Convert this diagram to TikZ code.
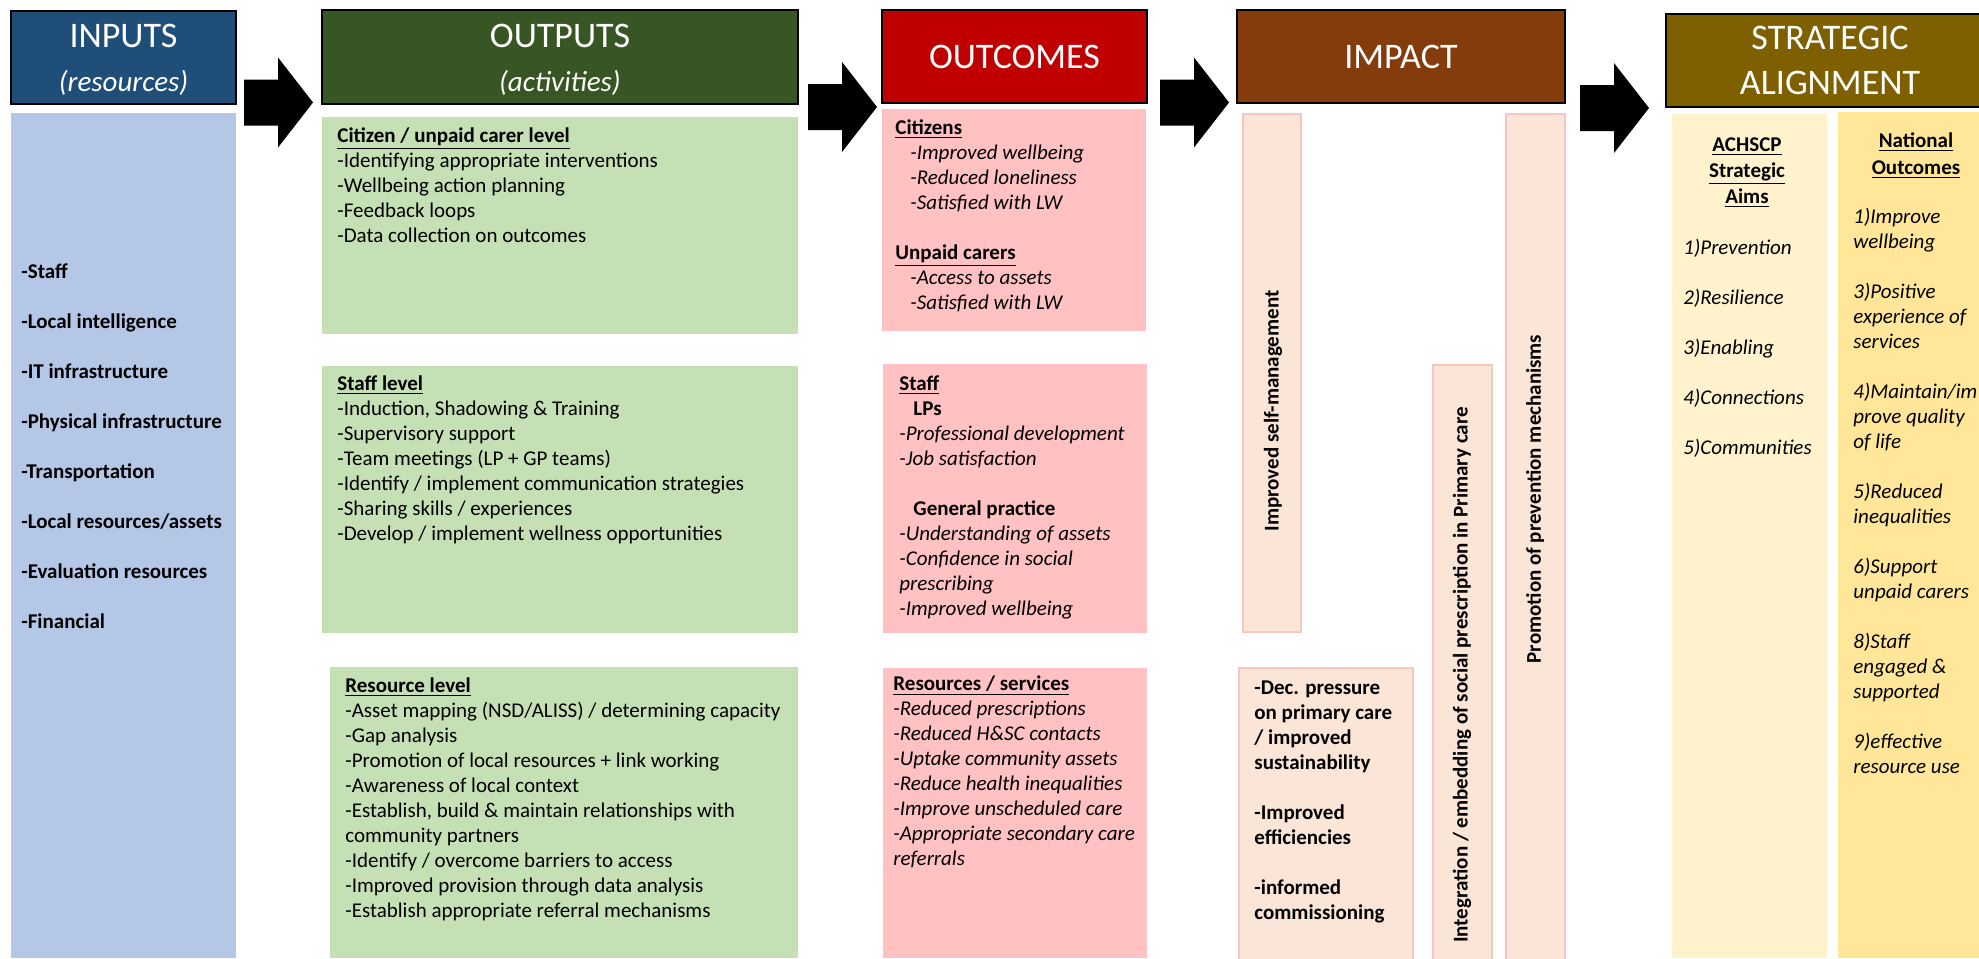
\documentclass[tikz,border=0pt]{standalone}
\usepackage{fontspec}
\setmainfont{Carlito}
\usepackage{xcolor}
\usetikzlibrary{fit,positioning}
\definecolor{inhead}{HTML}{1F4E79}
\definecolor{inbody}{HTML}{B4C7E7}
\definecolor{outhead}{HTML}{375623}
\definecolor{outbody}{HTML}{C5E0B4}
\definecolor{ochead}{HTML}{C00000}
\definecolor{ocbody}{HTML}{FFC1C1}
\definecolor{imhead}{HTML}{843C0C}
\definecolor{imbody}{HTML}{FBE5D6}
\definecolor{imline}{HTML}{F6C6C0}
\definecolor{sahead}{HTML}{7F6000}
\definecolor{saaims}{HTML}{FFF2CC}
\definecolor{sanat}{HTML}{FFE699}

\begin{document}
\begin{tikzpicture}[
  x=0.5pt, y=-0.5pt,
  hdr/.style={draw=black,line width=0.7pt,inner sep=0pt},
  hdrtxt/.style={text=white,align=center,inner sep=0pt,font=\fontsize{18}{20}\selectfont},
  panel/.style={inner sep=0pt,outer sep=0pt},
  impanel/.style={panel,fill=imbody,draw=imline,line width=0.6pt},
  txt/.style={anchor=north west,align=left,inner sep=0pt,font=\fontsize{10.5}{12.5}\selectfont},
  vtxt/.style={rotate=90,inner sep=0pt,font=\bfseries\fontsize{10.5}{12.5}\selectfont},
  blockarrow/.style={fill=black}
]
\useasboundingbox (0,0) rectangle (1979,958);
\clip (0,0) rectangle (1979,958);

% column headers
\node[hdr,fill=inhead,fit={(11,11) (236,104)}] (inhd) {};
\node[hdr,fill=outhead,fit={(322,10) (798,104)}] (outhd) {};
\node[hdr,fill=ochead,fit={(882,10) (1147,103)}] (ochd) {};
\node[hdr,fill=imhead,fit={(1237,10) (1565,103)}] (imhd) {};
\node[hdr,fill=sahead,fit={(1666,14) (1992,107)}] (sahd) {};

\node[hdrtxt] (intitle) at (123.5,60) {INPUTS\\[2pt]{\fontsize{14.5}{16}\selectfont\itshape (resources)}};
\node[hdrtxt] (outtitle) at (560,60) {OUTPUTS\\[2pt]{\fontsize{14.5}{16}\selectfont\itshape (activities)}};
\node[hdrtxt] (octitle) at (ochd.center) {OUTCOMES};
\node[hdrtxt] (imtitle) at (imhd.center) {IMPACT};
\node[hdrtxt,font=\fontsize{18}{22.5}\selectfont] (satitle) at (1830,60) {STRATEGIC\\ALIGNMENT};

% block arrows between the columns
\foreach \x/\y in {244/102.5, 808/107, 1160/102.5, 1580/108}
  \fill[blockarrow] (\x,\y-23) -- (\x+34,\y-23) -- (\x+34,\y-45) -- (\x+69,\y)
    -- (\x+34,\y+45) -- (\x+34,\y+23) -- (\x,\y+23) -- cycle;

% inputs
\node[panel,fill=inbody,fit={(11,113) (236,958)}] (inbody) {};
\node[txt,font=\bfseries\fontsize{10.5}{25}\selectfont] (inlist) at (21,263)
  {-Staff\\-Local intelligence\\-IT infrastructure\\-Physical infrastructure\\
   -Transportation\\-Local resources/assets\\-Evaluation resources\\-Financial};

% outputs
\node[panel,fill=outbody,fit={(322,117) (798,334)}] (outcit) {};
\node[panel,fill=outbody,fit={(322,366) (798,633)}] (outstaff) {};
\node[panel,fill=outbody,fit={(330,667) (798,958)}] (outres) {};

\node[txt] (outcittxt) at (337,127)
  {\textbf{\underline{Citizen / unpaid carer level}}\\
   -Identifying appropriate interventions\\
   -Wellbeing action planning\\
   -Feedback loops\\
   -Data collection on outcomes};
\node[txt] (outstafftxt) at (337,375)
  {\textbf{\underline{Staff level}}\\
   -Induction, Shadowing \& Training\\
   -Supervisory support\\
   -Team meetings (LP + GP teams)\\
   -Identify / implement communication strategies\\
   -Sharing skills / experiences\\
   -Develop / implement wellness opportunities};
\node[txt] (outrestxt) at (345,677)
  {\textbf{\underline{Resource level}}\\
   -Asset mapping (NSD/ALISS) / determining capacity\\
   -Gap analysis\\
   -Promotion of local resources + link working\\
   -Awareness of local context\\
   -Establish, build \& maintain relationships with\\
   community partners\\
   -Identify / overcome barriers to access\\
   -Improved provision through data analysis\\
   -Establish appropriate referral mechanisms};

% outcomes
\node[panel,fill=ocbody,fit={(882,109) (1146,331)}] (occit) {};
\node[panel,fill=ocbody,fit={(883,364) (1147,633)}] (ocstaff) {};
\node[panel,fill=ocbody,fit={(883,668) (1147,958)}] (ocres) {};

\node[txt] (occittxt) at (895,119)
  {\textbf{\underline{Citizens}}\\
   \hspace*{7.5pt}\textit{-Improved wellbeing}\\
   \hspace*{7.5pt}\textit{-Reduced loneliness}\\
   \hspace*{7.5pt}\textit{-Satisfied with LW}\\[12.5pt]
   \textbf{\underline{Unpaid carers}}\\
   \hspace*{7.5pt}\textit{-Access to assets}\\
   \hspace*{7.5pt}\textit{-Satisfied with LW}};
\node[txt] (ocstafftxt) at (899,375)
  {\textbf{\underline{Staff}}\\
   \hspace*{7pt}\textbf{LPs}\\
   \textit{-Professional development}\\
   \textit{-Job satisfaction}\\[12.5pt]
   \hspace*{7pt}\textbf{General practice}\\
   \textit{-Understanding of assets}\\
   \textit{-Confidence in social}\\
   \textit{prescribing}\\
   \textit{-Improved wellbeing}};
\node[txt] (ocrestxt) at (893,675)
  {\textbf{\underline{Resources / services}}\\
   \textit{-Reduced prescriptions}\\
   \textit{-Reduced H\&SC contacts}\\
   \textit{-Uptake community assets}\\
   \textit{-Reduce health inequalities}\\
   \textit{-Improve unscheduled care}\\
   \textit{-Appropriate secondary care}\\
   \textit{referrals}};

% impact
\node[impanel,fit={(1243,114) (1301,632)}] (imself) {};
\node[impanel,fit={(1239,668) (1413,964)}] (impress) {};
\node[impanel,fit={(1433,365) (1492,964)}] (imembed) {};
\node[impanel,fit={(1506,114) (1565,964)}] (imprev) {};

\node[vtxt] (imselftxt) at (1273,411) {Improved self-management};
\node[vtxt] (imembedtxt) at (1462,675) {Integration / embedding of social prescription in Primary care};
\node[vtxt] (imprevtxt) at (1535,499) {Promotion of prevention mechanisms};
\node[txt,font=\bfseries\fontsize{10.5}{12.5}\selectfont] (impresstxt) at (1254,680)
  {-Dec. pressure\\on primary care\\/ improved\\sustainability\\[12.5pt]
   -Improved\\efficiencies\\[12.5pt]
   -informed\\commissioning};

% strategic alignment
\node[panel,fill=saaims,fit={(1672,114) (1827,958)}] (saaim) {};
\node[panel,fill=sanat,fit={(1838,112) (1979,958)}] (sanat) {};

\node[anchor=north,align=center,inner sep=0pt,font=\bfseries\fontsize{10.5}{13}\selectfont]
  (saaimhd) at (1747,137) {\underline{ACHSCP}\\\underline{Strategic}\\\underline{Aims}};
\node[txt,font=\itshape\fontsize{10.5}{25}\selectfont] (saaimtxt) at (1683,239)
  {1)Prevention\\2)Resilience\\3)Enabling\\4)Connections\\5)Communities};

\node[anchor=north,align=center,inner sep=0pt,font=\bfseries\fontsize{10.5}{13.5}\selectfont]
  (sanathd) at (1916,132) {\underline{National}\\\underline{Outcomes}};
\node[txt,font=\itshape\fontsize{10.5}{12.5}\selectfont] (sanattxt) at (1853,208)
  {1)Improve\\wellbeing\\[12.5pt]
   3)Positive\\experience of\\services\\[12.5pt]
   4)Maintain/im\\prove quality\\of life\\[12.5pt]
   5)Reduced\\inequalities\\[12.5pt]
   6)Support\\unpaid carers\\[12.5pt]
   8)Staff\\engaged \&\\supported\\[12.5pt]
   9)effective\\resource use};
\end{tikzpicture}
\end{document}
